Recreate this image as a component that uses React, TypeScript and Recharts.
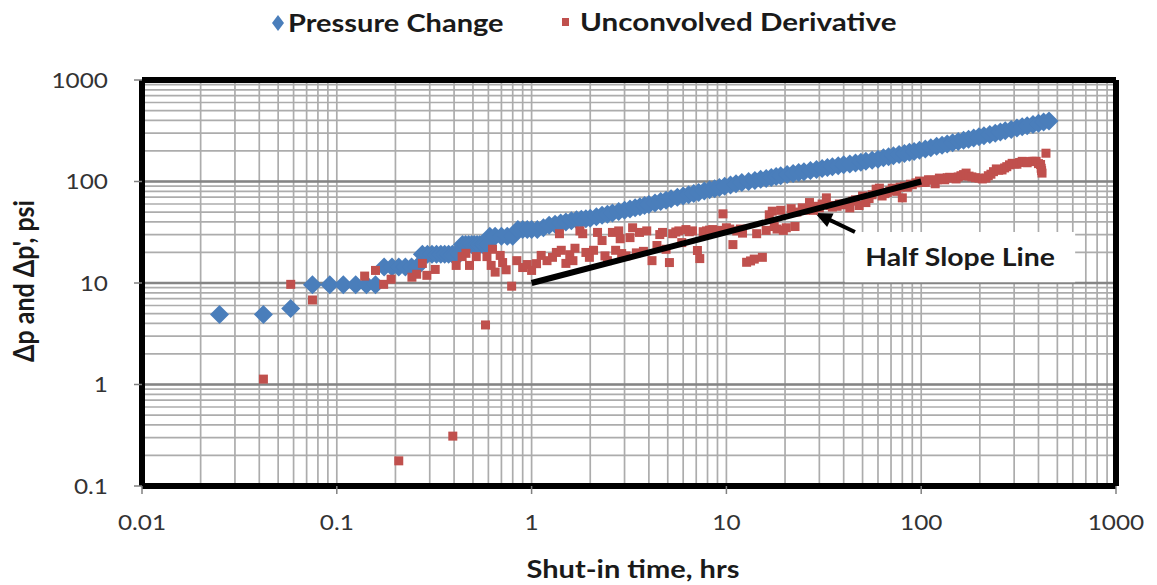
import React from 'react';
import {
  ScatterChart,
  Scatter,
  XAxis,
  YAxis,
  CartesianGrid,
  ReferenceLine,
  ReferenceArea,
  Label,
} from 'recharts';

const FONT = "Lato, 'Open Sans', sans-serif";
const STRETCH = 1.16;
const BLUE = '#4a7ebb';
const RED = '#c0504d';
const INK = '#1a1a1a';

// Pressure change during the build-up (hrs, psi)
const shutInHours = [
  0.025, 0.042, 0.058, 0.075, 0.092, 0.108, 0.125, 0.142, 0.158, 0.175, 0.192, 0.208, 0.225, 0.242,
  0.258, 0.275, 0.292, 0.308, 0.325, 0.342, 0.358, 0.375, 0.392, 0.408, 0.425, 0.442, 0.458, 0.475,
  0.492, 0.508, 0.525, 0.542, 0.558, 0.575, 0.592, 0.61, 0.65, 0.7, 0.75, 0.8, 0.85, 0.9, 0.95, 1.0,
  1.07, 1.15, 1.23, 1.32, 1.41, 1.5, 1.6, 1.7, 1.8, 1.9, 2.0, 2.15, 2.3, 2.45, 2.6, 2.8, 3.0, 3.2,
  3.4, 3.6, 3.8, 4.0, 4.3, 4.6, 4.9, 5.2, 5.6, 6.0, 6.4, 6.8, 7.2, 7.7, 8.2, 8.7, 9.2, 9.8, 10.5,
  11.2, 12, 13, 14, 15, 16, 17, 18, 19, 20.5, 22, 23.5, 25, 27, 29, 31, 33, 35, 37.5, 40, 43, 46,
  49, 52, 56, 60, 64, 68, 72, 77, 82, 87, 92, 98, 105, 112, 120, 128, 136, 145, 155, 165, 175, 186,
  198, 210, 225, 240, 255, 270, 290, 310, 330, 350, 375, 400, 425, 453,
];
const pressureChange = [
  4.9, 4.9, 5.6, 9.6, 9.6, 9.6, 9.6, 9.6, 9.6, 14.4, 14.4, 14.4, 14.4, 14.4, 14.4, 19.2, 19.2, 19.2,
  19.2, 19.2, 19.2, 19.2, 19.2, 19.2, 19.2, 24, 24, 24, 24, 24, 24, 24, 24, 24, 24, 28.8, 28.8, 28.8,
  28.8, 28.8, 33.6, 33.6, 33.6, 33.6, 33.6, 35, 37, 38, 39, 40, 41, 42, 42.5, 43, 43.5, 45, 46.5,
  47.5, 49, 50.5, 52, 53.5, 55, 56.5, 58, 59.5, 61.5, 63.5, 65.5, 67.5, 70, 72, 74, 76, 78, 80.5,
  83, 85, 87.5, 90, 92.5, 95, 97.5, 100, 102.5, 105, 107, 109.5, 112, 114, 117, 120, 122.5, 125,
  128, 131, 134, 137, 140, 143, 146, 149, 152, 155, 158, 162, 166, 171, 175, 179, 184, 189, 194,
  198, 203, 209, 215, 222, 228, 234, 241, 248, 255, 261, 268, 276, 283, 291, 299, 308, 316, 326,
  336, 346, 355, 365, 375, 385, 395,
];

// Unconvolved pressure derivative (hrs, psi)
const derivHours = [
  0.042, 0.058, 0.075, 0.139, 0.158, 0.174, 0.19, 0.208, 0.243, 0.257, 0.275, 0.29, 0.32, 0.394,
  0.41, 0.44, 0.46, 0.48, 0.52, 0.58, 0.59, 0.62, 0.63, 0.65, 0.69, 0.71, 0.74, 0.79, 0.84, 0.9,
  0.95, 1.0, 1.06, 1.12, 1.2, 1.28, 1.34, 1.39, 1.42, 1.5, 1.57, 1.63, 1.67, 1.77, 1.83, 1.9, 1.98,
  2.08, 2.18, 2.3, 2.38, 2.45, 2.6, 2.7, 2.8, 2.85, 2.9, 3.05, 3.2, 3.3, 3.45, 3.58, 3.75, 3.9,
  4.15, 4.4, 4.55, 4.7, 4.9, 5.1, 5.3, 5.5, 5.7, 5.9, 6.2, 6.45, 6.7, 7.1, 7.3, 7.6, 7.9, 8.2, 8.5,
  8.9, 9.2, 9.6, 10, 10.4, 10.8, 11.3, 11.8, 12.1, 12.7, 13.3, 13.9, 14.3, 15.3, 16, 16.6, 17.2,
  17.6, 18.2, 19, 19.6, 20.3, 21.5, 22.5, 23, 24.5, 25.5, 26.7, 28, 29, 30, 31, 32.6, 34, 35, 37,
  38, 40, 41, 43, 44.5, 46, 48, 50, 52, 54, 56, 58.7, 61, 63, 65, 67, 69, 71, 73, 75, 78, 80, 82,
  85, 88, 90, 94, 98, 102, 105, 109, 112, 118, 121, 124, 128, 132, 136, 140, 145, 151, 155, 160,
  165, 170, 176, 182, 190, 198, 206, 215, 221, 228, 235, 243, 250, 260, 268, 275, 284, 293, 301,
  310, 320, 330, 340, 350, 360, 371, 380, 389, 400, 410, 413, 415, 417, 437,
];
const derivPsi = [
  1.13, 9.7, 6.8, 11.7, 13.3, 9.7, 10.9, 0.177, 11.4, 12.2, 15.6, 11.9, 13.6, 0.31, 14.9, 18.2,
  19.6, 14.9, 18.2, 3.86, 18.2, 14.9, 21.5, 12.8, 18.7, 15.9, 13.5, 9.3, 16.6, 14.2, 15.2, 13.3,
  15.5, 18.7, 16.6, 17.9, 20, 30.6, 21, 15.6, 19, 16.6, 22, 32.6, 30.6, 20, 17.9, 21, 31.5, 26.2,
  18.5, 16.6, 31.5, 21, 32.6, 27.3, 19.5, 18.5, 28, 35, 19.8, 31.5, 20.5, 32.6, 16.6, 23.4, 30,
  31.5, 21.5, 15.9, 30.6, 31.8, 32.6, 25, 33.6, 32, 32.6, 20.9, 17.4, 32, 32.6, 33.2, 33.6, 32.5,
  33, 48, 35, 34, 23.9, 32.6, 34, 31, 16, 16.5, 17.2, 30.6, 17.9, 33, 47, 51, 36, 34, 52, 33, 35,
  54, 36, 50, 55, 52, 62, 52, 57, 55, 60, 69, 58, 56, 57, 60, 59, 60, 55, 64, 66, 58, 72, 62, 68,
  74, 84, 86, 72, 76, 78, 81, 86, 82, 80, 88, 69, 90, 88, 94, 93, 97, 101, 98, 98, 104, 103, 95,
  104, 108, 106, 104, 109, 110, 108, 106, 111, 114, 117, 121, 113, 111, 109, 108, 106, 108, 114,
  118, 125, 133, 129, 130, 136, 140, 146, 151, 149, 148, 154, 158, 156, 153, 157, 158, 158, 158,
  150, 147, 135, 128, 121, 190,
];

// Reference half-slope straight line and its callout arrow
const halfSlopeHours = [1, 100];
const halfSlopePsi = [10, 100];
const arrowHours = [45.7, 28.5];
const arrowPsi = [31.8, 49];
const calloutHours = [40.6, 617];
const calloutPsi = [10.2, 31.8];
const calloutText = 'Half Slope Line';

const timeTicks = [0.01, 0.1, 1, 10, 100, 1000];
const psiTicks = [0.1, 1, 10, 100, 1000];

// 1..9 multiples of every decade for the log grid
const logGrid = (ticks: number[]) =>
  ticks
    .slice(0, -1)
    .flatMap((d) => [1, 2, 3, 4, 5, 6, 7, 8, 9].map((k) => +(k * d).toPrecision(3)))
    .concat(ticks[ticks.length - 1]);

const pressureData = shutInHours.map((t, i) => ({ t, p: pressureChange[i] }));
const derivData = derivHours.map((t, i) => ({ t, p: derivPsi[i] }));
const halfSlopeData = halfSlopeHours.map((t, i) => ({ t, p: halfSlopePsi[i] }));

const Diamond = (props: any) => {
  const { cx, cy } = props;
  if (cx == null || cy == null) return <g />;
  const r = 9.5;
  return (
    <polygon
      points={`${cx},${cy - r} ${cx + r},${cy} ${cx},${cy + r} ${cx - r},${cy}`}
      fill={BLUE}
    />
  );
};

const Square = (props: any) => {
  const { cx, cy } = props;
  if (cx == null || cy == null) return <g />;
  return <rect x={cx - 4.5} y={cy - 4.5} width={9} height={9} fill={RED} />;
};

const NoMarker = () => <g />;

const XTick = (props: any) => {
  const { x, y, payload } = props;
  return (
    <g transform={`translate(${x},${y})`}>
      <text
        transform={`scale(${STRETCH},1)`}
        textAnchor="middle"
        dy="0.71em"
        fontFamily={FONT}
        fontSize={21}
        fill="#333"
      >
        {String(payload.value)}
      </text>
    </g>
  );
};

const YTick = (props: any) => {
  const { x, y, payload } = props;
  return (
    <g transform={`translate(${x},${y})`}>
      <text
        transform={`scale(${STRETCH},1)`}
        textAnchor="end"
        dy="0.36em"
        fontFamily={FONT}
        fontSize={21}
        fill="#333"
      >
        {String(payload.value)}
      </text>
    </g>
  );
};

const XTitle = () => (
  <g transform={`translate(633,569) scale(${STRETCH},1)`}>
    <text textAnchor="middle" dy="0.36em" fontFamily={FONT} fontWeight={700} fontSize={25} fill={INK}>
      Shut-in time, hrs
    </text>
  </g>
);

const YTitle = () => (
  <g transform={`translate(24,281) scale(${STRETCH},1) rotate(-90)`}>
    <text textAnchor="middle" dy="0.36em" fontFamily={FONT} fontWeight={700} fontSize={25} fill={INK}>
      {"Δp and Δp', psi"}
    </text>
  </g>
);

const CalloutLabel = (props: any) => {
  const vb = props.viewBox || {};
  const cx = (vb.x ?? 0) + (vb.width ?? 0) / 2;
  const cy = (vb.y ?? 0) + (vb.height ?? 0) / 2;
  return (
    <g transform={`translate(${cx},${cy}) scale(${STRETCH},1)`}>
      <text textAnchor="middle" dy="0.36em" fontFamily={FONT} fontWeight={700} fontSize={24.5} fill={INK}>
        {calloutText}
      </text>
    </g>
  );
};

const Arrow = (props: any) => {
  const { x1, y1, x2, y2 } = props;
  if ([x1, y1, x2, y2].some((v) => v == null || Number.isNaN(v))) return <g />;
  const dx = x2 - x1;
  const dy = y2 - y1;
  const len = Math.hypot(dx, dy) || 1;
  const ux = dx / len;
  const uy = dy / len;
  const headLen = 17;
  const headHalf = 7.5;
  const bx = x2 - ux * headLen;
  const by = y2 - uy * headLen;
  return (
    <g>
      <line x1={x1} y1={y1} x2={bx + ux * 2} y2={by + uy * 2} stroke="#000" strokeWidth={4} />
      <polygon
        points={`${x2},${y2} ${bx - uy * headHalf},${by + ux * headHalf} ${bx + uy * headHalf},${by - ux * headHalf}`}
        fill="#000"
      />
    </g>
  );
};

const legendText: React.CSSProperties = {
  position: 'absolute',
  top: 22,
  transform: `translateY(-50%) scaleX(${STRETCH})`,
  transformOrigin: 'left center',
  fontFamily: FONT,
  fontWeight: 700,
  fontSize: 25,
  lineHeight: 1,
  color: INK,
  whiteSpace: 'nowrap',
};

export default function App() {
  const border = { stroke: '#000', strokeWidth: 6, ifOverflow: 'visible' as const };
  return (
    <div style={{ position: 'relative', width: 1157, height: 585, background: '#fff' }}>
      <style>{'body{margin:0;background:#fff}'}</style>

      {/* legend */}
      <svg style={{ position: 'absolute', left: 270, top: 14 }} width={16} height={18}>
        <polygon points="8,1 14,9 8,17 2,9" fill={BLUE} />
      </svg>
      <div style={{ ...legendText, left: 288 }}>Pressure Change</div>
      <svg style={{ position: 'absolute', left: 561, top: 17 }} width={10} height={10}>
        <rect x={1} y={1} width={7} height={8} fill={RED} />
      </svg>
      <div style={{ ...legendText, left: 580, fontSize: 25.5 }}>Unconvolved Derivative</div>

      <ScatterChart
        width={1157}
        height={585}
        margin={{ top: 80, right: 41, bottom: 39, left: 22 }}
        style={{ position: 'absolute', left: 0, top: 0 }}
      >
        <CartesianGrid
          verticalValues={logGrid(timeTicks)}
          horizontalValues={logGrid(psiTicks)}
          stroke="#acacac"
          strokeWidth={1.7}
          fill="none"
        />
        <CartesianGrid
          vertical={false}
          horizontalValues={psiTicks}
          stroke="#858585"
          strokeWidth={2.4}
          fill="none"
        />
        <XAxis
          type="number"
          dataKey="t"
          scale="log"
          domain={[0.01, 1000]}
          allowDataOverflow
          ticks={timeTicks}
          interval={0}
          tick={<XTick />}
          tickSize={8}
          tickMargin={21}
          tickLine={{ stroke: '#808080', strokeWidth: 1.5 }}
          axisLine={false}
          height={60}
        >
          <Label content={<XTitle />} />
        </XAxis>
        <YAxis
          type="number"
          dataKey="p"
          scale="log"
          domain={[0.1, 1000]}
          allowDataOverflow
          ticks={psiTicks}
          interval={0}
          tick={<YTick />}
          tickSize={8}
          tickMargin={26}
          tickLine={{ stroke: '#808080', strokeWidth: 1.5 }}
          axisLine={false}
          width={120}
        >
          <Label content={<YTitle />} />
        </YAxis>

        <ReferenceArea
          x1={calloutHours[0]}
          x2={calloutHours[1]}
          y1={calloutPsi[0]}
          y2={calloutPsi[1]}
          fill="#fff"
          fillOpacity={1}
          stroke="none"
          ifOverflow="visible"
          label={<CalloutLabel />}
        />

        <ReferenceLine x={timeTicks[0]} {...border} />
        <ReferenceLine x={timeTicks[timeTicks.length - 1]} {...border} />
        <ReferenceLine y={psiTicks[0]} {...border} />
        <ReferenceLine y={psiTicks[psiTicks.length - 1]} {...border} />

        <Scatter
          name="Pressure Change"
          data={pressureData}
          shape={Diamond}
          isAnimationActive={false}
        />
        <Scatter
          name="Unconvolved Derivative"
          data={derivData}
          shape={Square}
          isAnimationActive={false}
        />
        <Scatter
          name="Half Slope Line"
          data={halfSlopeData}
          shape={NoMarker}
          line={{ stroke: '#000', strokeWidth: 6 }}
          lineType="joint"
          isAnimationActive={false}
        />

        <ReferenceLine
          segment={[
            { x: arrowHours[0], y: arrowPsi[0] },
            { x: arrowHours[1], y: arrowPsi[1] },
          ]}
          shape={Arrow}
          ifOverflow="visible"
        />
      </ScatterChart>
    </div>
  );
}
